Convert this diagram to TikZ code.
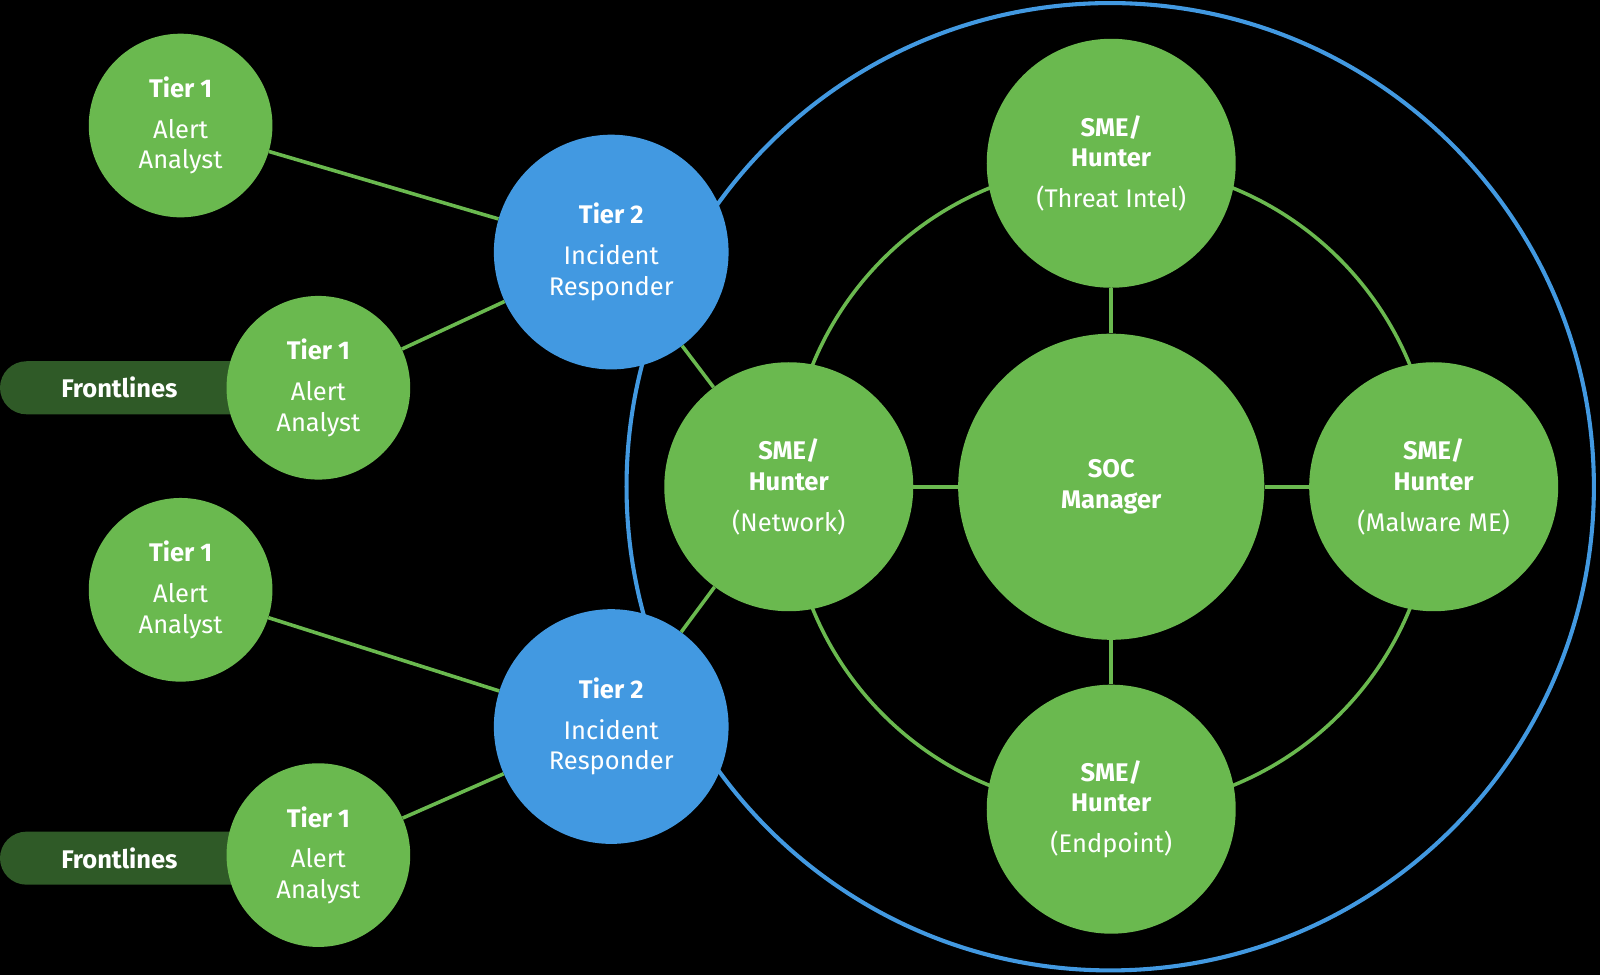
\documentclass[tikz,border=0pt]{standalone}
\usepackage{fontspec}
\setmainfont{Fira Sans}
\definecolor{gr}{HTML}{6AB94F}
\definecolor{bl}{HTML}{4299E1}
\definecolor{dg}{HTML}{2F5A27}
\begin{document}
\begin{tikzpicture}[x=1pt,y=-1pt,
  c/.style={circle,fill=gr,text=white,align=center,inner sep=0pt,minimum size=#1,font=\fontsize{25}{30}\selectfont},
  b/.style={c=#1,fill=bl},
  ln/.style={gr,line width=3.5pt},
  pill/.style={fill=dg,rounded corners=26pt}]
\fill[black] (0,0) rectangle (1568,955);
\useasboundingbox (0,0) rectangle (1568,955);
\draw[bl,line width=4pt] (1088,477) circle (474);
\draw[ln] (1089,477) circle (316);
\fill[pill] (0,354) rectangle (260,406);
\fill[pill] (0,815) rectangle (260,867);
\node[text=white,font=\fontsize{25}{30}\selectfont\bfseries] (f1) at (117,380) {Frontlines};
\node[text=white,font=\fontsize{25}{30}\selectfont\bfseries] (f2) at (117,841) {Frontlines};
\node[c=180pt] (t1a) at (177,123) {\textbf{Tier 1}\\[10pt]Alert\\Analyst};
\node[c=180pt] (t1b) at (312,380) {\textbf{Tier 1}\\[10pt]Alert\\Analyst};
\node[c=180pt] (t1c) at (177,578) {\textbf{Tier 1}\\[10pt]Alert\\Analyst};
\node[c=180pt] (t1d) at (312,838) {\textbf{Tier 1}\\[10pt]Alert\\Analyst};
\node[b=230pt] (t2a) at (599,247) {\textbf{Tier 2}\\[10pt]Incident\\Responder};
\node[b=230pt] (t2b) at (599,712) {\textbf{Tier 2}\\[10pt]Incident\\Responder};
\node[c=300pt] (soc) at (1089,477) {\textbf{SOC}\\\textbf{Manager}};
\node[c=244pt] (thr) at (1089,160) {\textbf{SME/}\\\textbf{Hunter}\\[10pt](Threat Intel)};
\node[c=244pt] (net) at (773,477) {\textbf{SME/}\\\textbf{Hunter}\\[10pt](Network)};
\node[c=244pt] (mal) at (1405,477) {\textbf{SME/}\\\textbf{Hunter}\\[10pt](Malware ME)};
\node[c=244pt] (end) at (1089,793) {\textbf{SME/}\\\textbf{Hunter}\\[10pt](Endpoint)};
\begin{scope}[on background layer/.try]
\end{scope}
\draw[ln] (t1a) -- (t2a);
\draw[ln] (t1b) -- (t2a);
\draw[ln] (t1c) -- (t2b);
\draw[ln] (t1d) -- (t2b);
\draw[ln] (t2a) -- (net);
\draw[ln] (t2b) -- (net);
\draw[ln] (soc) -- (thr);
\draw[ln] (soc) -- (net);
\draw[ln] (soc) -- (mal);
\draw[ln] (soc) -- (end);
\end{tikzpicture}
\end{document}
